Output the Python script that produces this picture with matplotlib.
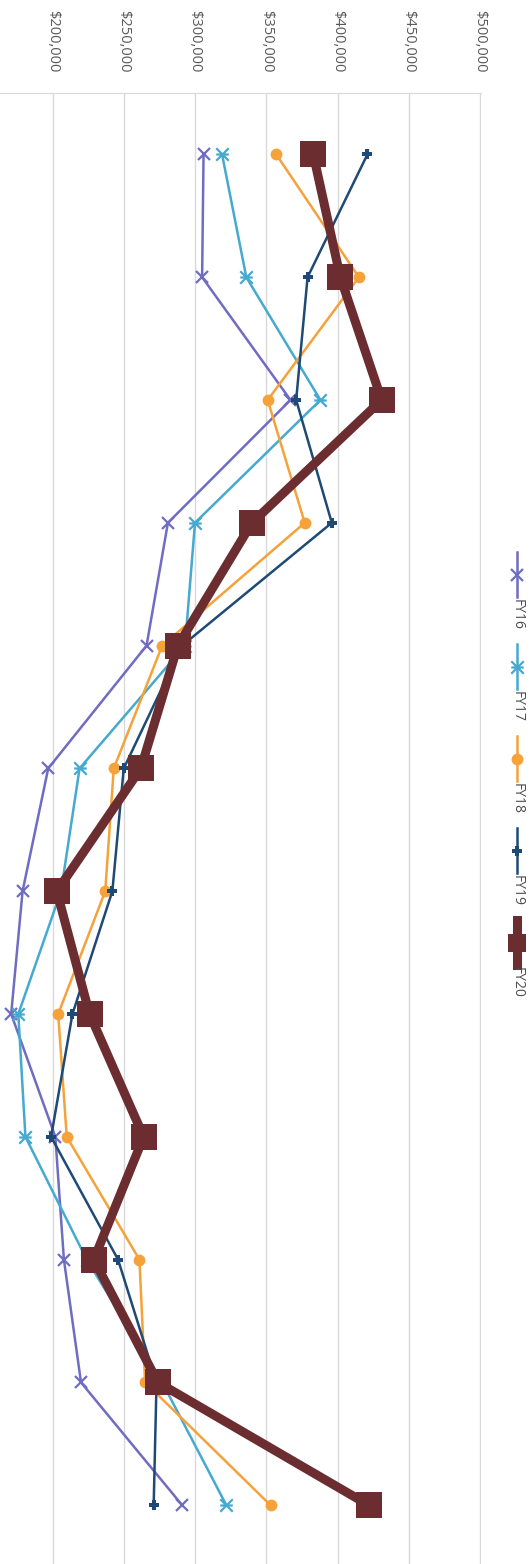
import numpy as np
import matplotlib
matplotlib.use('Agg')
import matplotlib.pyplot as plt
from matplotlib.lines import Line2D
from matplotlib.path import Path
from matplotlib.ticker import FuncFormatter

plt.rcParams['font.family'] = ['Open Sans', 'DejaVu Sans']

# data (monthly totals, fiscal year order)
months = ['Jul', 'Aug', 'Sep', 'Oct', 'Nov', 'Dec',
          'Jan', 'Feb', 'Mar', 'Apr', 'May', 'Jun']
fy16 = [306000, 305000, 367000, 281000, 266000, 197000, 179000, 171000, 202000, 208000, 220000, 291000]
fy17 = [319000, 336000, 388000, 300000, 293000, 219000, 206000, 176000, 181000, 224000, 277000, 322000]
fy18 = [357000, 415000, 351000, 377000, 277000, 243000, 237000, 204000, 210000, 261000, 265000, 353000]
fy19 = [421000, 379000, 371000, 396000, 291000, 250000, 242000, 214000, 199000, 246000, 273000, 271000]
fy20 = [383000, 402000, 431000, 340000, 288000, 262000, 203000, 226000, 264000, 229000, 274000, 422000]
series_names = ['FY16', 'FY17', 'FY18', 'FY19', 'FY20']
series_vals = [fy16, fy17, fy18, fy19, fy20]
value_ticks = [200000, 250000, 300000, 350000, 400000, 450000, 500000]

# star marker (x with a bar), like the spreadsheet one turned on its side
star = Path([(-1, -1), (1, 1), (-1, 1), (1, -1), (-1, 0), (1, 0)],
            [Path.MOVETO, Path.LINETO, Path.MOVETO, Path.LINETO, Path.MOVETO, Path.LINETO])

styles = [
    dict(color='#6F6CC2', lw=1.8, marker='x', ms=9, mew=1.6),
    dict(color='#45A9D0', lw=1.8, marker=star, ms=9, mew=1.6),
    dict(color='#F5A23A', lw=1.8, marker='o', ms=8.5, mew=0),
    dict(color='#1F4A75', lw=1.8, marker='P', ms=7.5, mew=0),
    dict(color='#6C2D30', lw=6.5, marker='s', ms=18.5, mew=0),
]

W, H = 532, 1564
fig = plt.figure(figsize=(W / 100, H / 100), dpi=100)

# plot area in pixels
top_px = 93
row_px = 122.8
px_per_k = 1.425
x200_px = 52.5
right_px = 481
x_left = 200000 - x200_px / px_per_k * 1000
x_right = 200000 + (right_px - x200_px) / px_per_k * 1000
h = 12 * row_px / H
ax = fig.add_axes([0, 1 - top_px / H - h, right_px / W, h])

rows = np.arange(len(months))
for name, vals, st in zip(series_names, series_vals, styles):
    ax.plot(vals, rows, label=name, solid_joinstyle='round', **st)

ax.set_xlim(x_left, x_right)
ax.set_ylim(len(months) - 0.5, -0.5)
ax.set_xticks(value_ticks)
ax.xaxis.set_major_formatter(FuncFormatter(lambda v, p: '${:,.0f}'.format(v)))
ax.xaxis.tick_top()
ax.tick_params(axis='x', length=0, pad=15, labelsize=10.5, labelcolor='#595959',
               labelrotation=-90)
ax.set_yticks(rows)
ax.set_yticklabels(months)
ax.tick_params(axis='y', left=False, labelleft=False)
ax.grid(axis='x', color='#D9D9D9', lw=1)
ax.set_axisbelow(True)
for s in ['left', 'right', 'bottom']:
    ax.spines[s].set_visible(False)
ax.spines['top'].set_color('#D9D9D9')

# legend, turned like the rest of the chart
leg_x = 517 / W
for i, (name, st) in enumerate(zip(series_names, styles)):
    y0 = 552 + 92 * i
    y1 = y0 + 45
    kw = dict(st)
    if name == 'FY20':
        kw['ms'] = 13
    ln = Line2D([leg_x] * 3, [1 - y0 / H, 1 - (y0 + y1) / 2 / H, 1 - y1 / H],
                transform=fig.transFigure, markevery=[1], **kw)
    fig.add_artist(ln)
    fig.text(leg_x, 1 - (y1 + 2) / H, name, rotation=-90, ha='center', va='top',
             fontsize=10, color='#4D4D4D')

fig.savefig('out.png', dpi=100)
